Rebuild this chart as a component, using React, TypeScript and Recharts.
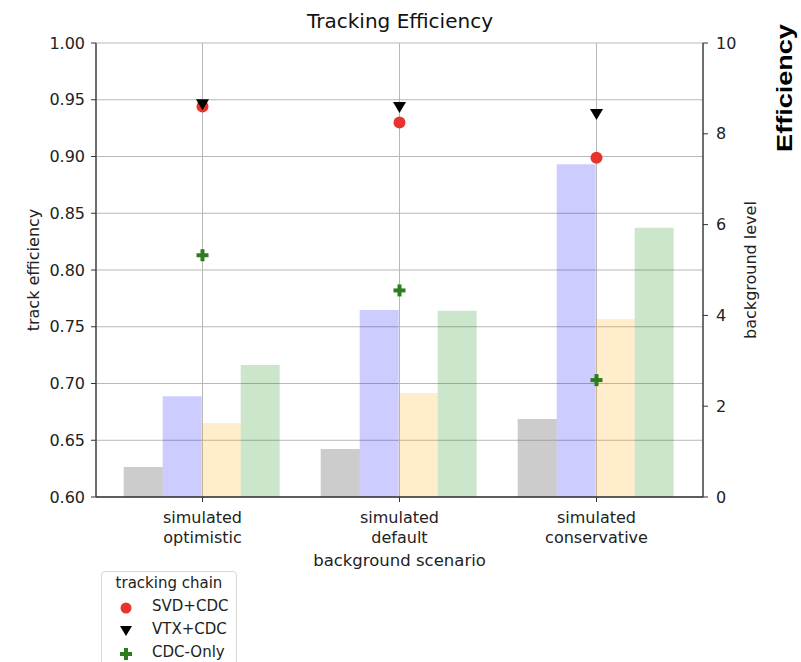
import React from 'react';
import { ComposedChart, Bar, Line, XAxis, YAxis, CartesianGrid } from 'recharts';

const categories = ['simulated\noptimistic', 'simulated\ndefault', 'simulated\nconservative'];
// background level (right axis)
const bgGray = [0.66, 1.06, 1.72];
const bgBlue = [2.22, 4.12, 7.33];
const bgOrange = [1.63, 2.29, 3.92];
const bgGreen = [2.91, 4.10, 5.93];
// track efficiency (left axis)
const svdCdc = [0.944, 0.930, 0.899];
const vtxCdc = [0.946, 0.9436, 0.9374];
const cdcOnly = [0.813, 0.782, 0.703];

const effTicks = [0.6, 0.65, 0.7, 0.75, 0.8, 0.85, 0.9, 0.95, 1.0];
const bgTicks = [0, 2, 4, 6, 8, 10];

const data = categories.map((name, i) => ({
  name,
  gray: bgGray[i], blue: bgBlue[i], orange: bgOrange[i], green: bgGreen[i],
  svd: svdCdc[i], vtx: vtxCdc[i], cdc: cdcOnly[i],
}));

const FONT = 'DejaVu Sans, sans-serif';
const RED = '#e8342a';
const GREEN = '#2d7d1f';
const TXT = '#222';

const Circle = (p: any) => p.cx == null ? null : <circle cx={p.cx} cy={p.cy} r={6} fill={RED} />;
const Tri = (p: any) => p.cx == null ? null :
  <path d={`M${p.cx - 6.5},${p.cy - 5} L${p.cx + 6.5},${p.cy - 5} L${p.cx},${p.cy + 6} Z`} fill="#000" />;
const Plus = (p: any) => p.cx == null ? null : (
  <g fill={GREEN}>
    <rect x={p.cx - 6} y={p.cy - 2} width={12} height={4} />
    <rect x={p.cx - 2} y={p.cy - 6} width={4} height={12} />
  </g>
);

const CatTick = (p: any) => {
  const lines = String(p.payload.value).split('\n');
  return (
    <text x={p.x} y={p.y + 19} textAnchor="middle" fill={TXT} fontSize={16} fontFamily={FONT}>
      {lines.map((l, i) => <tspan key={i} x={p.x} dy={i === 0 ? 0 : 20}>{l}</tspan>)}
    </text>
  );
};

const legendRows = [
  { label: 'SVD+CDC', mark: <circle cx={8} cy={8} r={5.5} fill={RED} /> },
  { label: 'VTX+CDC', mark: <path d="M2,3 L14,3 L8,13 Z" fill="#000" /> },
  { label: 'CDC-Only', mark: <g fill={GREEN}><rect x={2} y={6} width={12} height={4} /><rect x={6} y={2} width={4} height={12} /></g> },
];

export default function App() {
  return (
    <div style={{ position: 'absolute', left: 0, top: 0, width: 801, height: 662, background: '#fff', overflow: 'hidden', fontFamily: FONT }}>
      <div style={{ position: 'absolute', left: 250, width: 300, top: 9, textAlign: 'center', fontSize: 20, color: '#111' }}>
        Tracking Efficiency
      </div>
      <ComposedChart width={801} height={662} data={data}
        margin={{ top: 43, right: 48, bottom: 93, left: 36 }}
        barCategoryGap="10%" barGap={0}>
        <CartesianGrid yAxisId="left" stroke="#b8b8b8" strokeWidth={1} />
        <XAxis dataKey="name" tick={<CatTick />} height={72} padding={{ left: 8, right: 8 }}
          axisLine={{ stroke: '#333', strokeWidth: 1.3 }} tickLine={{ stroke: '#333' }} tickSize={5} interval={0}
          label={{ value: 'background scenario', position: 'insideBottom', offset: 3, fontSize: 16.5, fill: TXT, fontFamily: FONT }} />
        <YAxis yAxisId="left" domain={[0.6, 1.0]} ticks={effTicks} width={60} tickSize={5} tickMargin={6}
          tickFormatter={(v: number) => v.toFixed(2)} allowDataOverflow
          tick={{ fontSize: 16, fill: TXT, fontFamily: FONT }}
          axisLine={{ stroke: '#333', strokeWidth: 1.3 }} tickLine={{ stroke: '#333' }}
          label={{ value: 'track efficiency', angle: -90, position: 'center', dx: -33, fontSize: 16, fill: TXT, fontFamily: FONT }} />
        <YAxis yAxisId="right" orientation="right" domain={[0, 10]} ticks={bgTicks} width={50} tickSize={5} tickMargin={8}
          tick={{ fontSize: 16, fill: TXT, fontFamily: FONT }}
          axisLine={{ stroke: '#333', strokeWidth: 1.3 }} tickLine={{ stroke: '#333' }}
          label={{ value: 'background level', angle: -90, position: 'center', dx: 22, fontSize: 16, fill: TXT, fontFamily: FONT }} />
        <Bar yAxisId="right" dataKey="gray" fill="#808080" fillOpacity={0.4} isAnimationActive={false} />
        <Bar yAxisId="right" dataKey="blue" fill="#0000ff" fillOpacity={0.2} isAnimationActive={false} />
        <Bar yAxisId="right" dataKey="orange" fill="#ffa500" fillOpacity={0.2} isAnimationActive={false} />
        <Bar yAxisId="right" dataKey="green" fill="#008000" fillOpacity={0.2} isAnimationActive={false} />
        <Line yAxisId="left" dataKey="cdc" stroke="none" dot={<Plus />} activeDot={false} isAnimationActive={false} />
        <Line yAxisId="left" dataKey="svd" stroke="none" dot={<Circle />} activeDot={false} isAnimationActive={false} />
        <Line yAxisId="left" dataKey="vtx" stroke="none" dot={<Tri />} activeDot={false} isAnimationActive={false} />
      </ComposedChart>
      <div style={{ position: 'absolute', left: 101, top: 571, width: 134, height: 110, border: '1px solid #d8d8d8', borderRadius: 4, background: '#fff', fontSize: 15, color: TXT }}>
        <div style={{ textAlign: 'center', marginTop: 2, height: 22 }}>tracking chain</div>
        {legendRows.map((r, i) => (
          <div key={i} style={{ position: 'absolute', left: 0, top: 25 + i * 23, height: 20, width: 134 }}>
            <svg width={16} height={16} style={{ position: 'absolute', left: 16, top: 3 }}>{r.mark}</svg>
            <span style={{ position: 'absolute', left: 50, top: 0 }}>{r.label}</span>
          </div>
        ))}
      </div>
      <div style={{ position: 'absolute', left: 785, top: 88, transform: 'translate(-50%, -50%) rotate(-90deg) scaleX(1.23)', fontFamily: 'Liberation Sans, Arial, sans-serif', fontWeight: 'bold', fontSize: 22, color: '#000', whiteSpace: 'nowrap' }}>
        Efficiency
      </div>
    </div>
  );
}
